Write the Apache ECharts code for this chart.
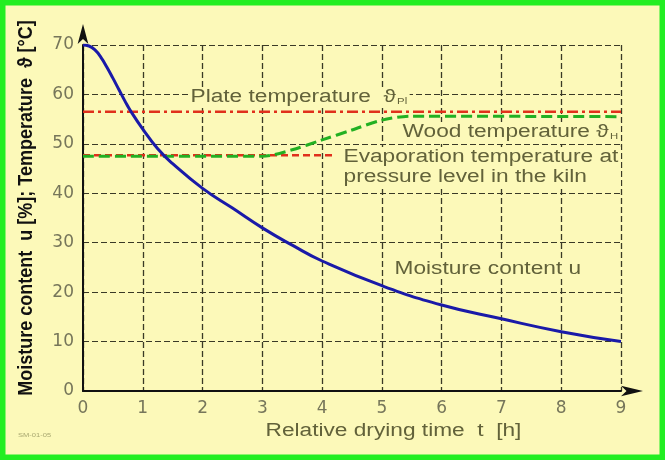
<!DOCTYPE html>
<html>
<head>
<meta charset="utf-8">
<script src="https://cdn.jsdelivr.net/npm/echarts@6/dist/echarts.min.js"></script>
<style>
  html, body { margin: 0; padding: 0; }
  #chart { width: 665px; height: 460px; }
</style>
</head>
<body>
<div id="chart"></div>
<script>
// moisture content curve u(t)
var moistT = [0, 0.1, 0.2, 0.3, 0.4, 0.5, 0.6, 0.7, 0.8, 1.0, 1.25, 1.5, 2, 2.5, 3, 3.5, 4, 5, 6, 7, 8, 9]
var moistU = [70, 69.8, 69, 67.5, 65.5, 63.3, 61, 58.7, 56.6, 53, 49, 46, 41, 37, 33, 29.5, 26.3, 21.3, 17.4, 14.6, 12, 10]
// wood temperature
var woodT = [0, 3, 3.5, 4, 4.5, 5, 5.5, 9]
var woodV = [47.5, 47.5, 48.8, 50.8, 52.8, 54.8, 55.6, 55.5]
// plate temperature and evaporation temperature
var plateT = [0, 9]
var plateV = [56.5, 56.5]
var evapT = [0, 4.2]
var evapV = [47.7, 47.7]

var xTicks = ['0', '1', '2', '3', '4', '5', '6', '7', '8', '9']

function pairs (xs, ys) {
  return xs.map(function (x, i) { return [x, ys[i]] })
}

var txtColor = '#62623a'
var tickColor = '#76765a'
var gridColor = '#3a3a26'
var bg = '#fcf9b9'
var stretch = 1.26   // the original picture is widened

function label (text, x, y, extra) {
  var style = {
    text: text, fill: txtColor, font: '18px Liberation Sans', lineHeight: 20,
    verticalAlign: 'middle', backgroundColor: bg, padding: [0, 2],
    rich: { s: { fontSize: 9, fill: txtColor, padding: [9, 0, 0, 1] } }
  }
  return { type: 'text', x: x, y: y, scaleX: stretch, z: 10, style: Object.assign(style, extra || {}) }
}

var chart = echarts.init(document.getElementById('chart'))
var option = {
  backgroundColor: bg,
  animation: false,
  grid: { left: 83, right: 44, top: 45, bottom: 69 },
  xAxis: {
    type: 'value', min: 0, max: 9, interval: 1,
    axisLine: { show: true, lineStyle: { color: '#111', width: 2 }, symbol: ['none', 'arrow'], symbolSize: [8, 22], symbolOffset: [0, 22] },
    axisTick: { show: false },
    axisLabel: { color: tickColor, fontSize: 17, margin: 9, fontFamily: 'DejaVu Sans',
      formatter: function (v) { return xTicks[v] } },
    splitLine: { show: true, lineStyle: { color: gridColor, width: 1.3, type: [6, 3] } }
  },
  yAxis: {
    type: 'value', min: 0, max: 70, interval: 10,
    axisLine: { show: true, lineStyle: { color: '#111', width: 2 }, symbol: ['none', 'arrow'], symbolSize: [8, 20], symbolOffset: [0, 21] },
    axisTick: { show: false },
    axisLabel: { color: tickColor, fontSize: 17, margin: 9, fontFamily: 'DejaVu Sans' },
    splitLine: { show: true, lineStyle: { color: gridColor, width: 1.2, type: [6, 3] } }
  },
  series: [
    {
      name: 'evap', type: 'line', data: pairs(evapT, evapV), showSymbol: false,
      lineStyle: { color: '#e0301c', width: 2.5, type: [7, 4] }, z: 3
    },
    {
      name: 'plate', type: 'line', data: pairs(plateT, plateV), showSymbol: false,
      lineStyle: { color: '#e0301c', width: 2.5, type: [11, 4, 3, 4] }, z: 3
    },
    {
      name: 'wood', type: 'line', data: pairs(woodT, woodV), showSymbol: false, smooth: 0.3,
      lineStyle: { color: '#22b022', width: 3, type: [11, 5] }, z: 4
    },
    {
      name: 'moisture', type: 'line', data: pairs(moistT, moistU), showSymbol: false, smooth: true,
      lineStyle: { color: '#1a1aa8', width: 3 }, z: 5
    }
  ],
  graphic: [
    label('Plate temperature  \u03d1{s|Pl}', 188, 97),
    label('Wood temperature \u03d1{s|H}', 400, 132),
    label('Evaporation temperature at\npressure level in the kiln', 341, 167),
    label('Moisture content u', 392, 269),
    label('Relative drying time  t  [h]', 263, 431, { backgroundColor: 'transparent' }),
    { type: 'text', x: 26, y: 208, rotation: Math.PI / 2, scaleY: 1.15, z: 10,
      style: { text: 'Moisture content  u [%]; Temperature  \u03d1 [°C]', fill: '#111',
        font: 'bold 18px Liberation Sans', align: 'center', verticalAlign: 'middle' } },
    { type: 'text', x: 18, y: 435, scaleX: stretch, z: 10,
      style: { text: 'SM-01-05', fill: '#a8a870', font: '6px Liberation Sans', verticalAlign: 'middle' } },
    { type: 'rect', z: 20, silent: true,
      shape: { x: 2.5, y: 2.5, width: 660, height: 455 },
      style: { fill: 'none', stroke: '#22ee22', lineWidth: 6 } }
  ]
}
chart.setOption(option)
</script>
</body>
</html>
